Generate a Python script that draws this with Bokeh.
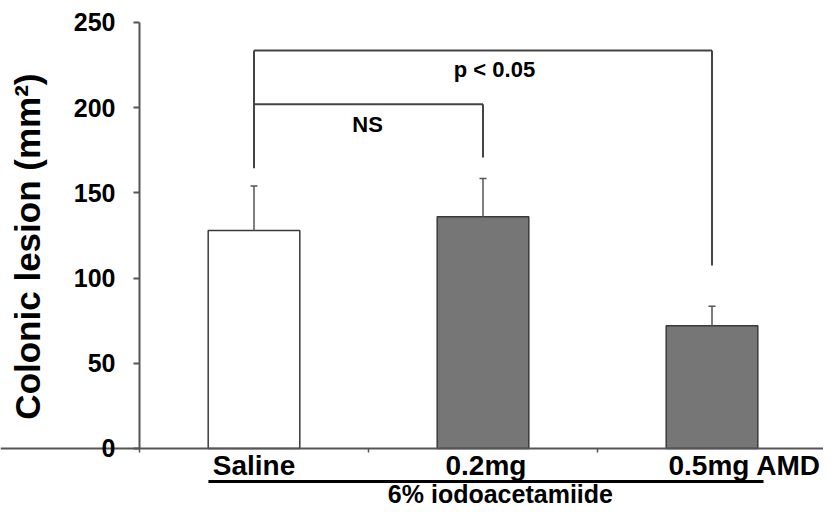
import math
from bokeh.plotting import figure
from bokeh.models import Label, FixedTicker, Range1d
from bokeh.embed import file_html
from bokeh.resources import INLINE

# ---- data ----
categories = ["Saline", "0.2mg", "0.5mg AMD"]
cat_x = [0.5, 1.5, 2.5]
means = [128, 136, 72]
sem_upper = [154, 158.5, 83.5]
bar_fills = ["#ffffff", "#767676", "#767676"]
y_ticks = [0, 50, 100, 150, 200, 250]
x_ticks = [0, 1, 2, 3]
y_title = "Colonic lesion (mm²)"
group_label = "6% iodoacetamiide"
ns_text = "NS"
p_text = "p < 0.05"
ns_bracket_y = 202
p_bracket_y = 233.6
bracket_foot = [164.5, 170.8, 107.4]

FONT = "Liberation Sans"
LINE = "#444444"
AXIS = "#555555"

W, H = 823, 509
# frame covers the whole canvas; axes are pinned at 0
p = figure(width=W, height=H, output_backend="svg", toolbar_location=None,
           x_range=Range1d(-0.6070, 2.9869), y_range=Range1d(-35.80, 262.91),
           min_border_left=0, min_border_right=0, min_border_top=0,
           min_border_bottom=0)
p.outline_line_color = None
p.grid.visible = False
p.background_fill_color = "white"
p.border_fill_color = "white"

# bars
p.vbar(x=cat_x, top=means, width=0.4, bottom=0, fill_color=bar_fills,
       line_color="#3a3a3a", line_width=1.5)

# error bars (upper only)
p.segment(x0=cat_x, y0=means, x1=cat_x, y1=sem_upper, line_color=AXIS, line_width=1.5)
p.dash(x=cat_x, y=sem_upper, size=7, line_color=AXIS, line_width=1.5)

# significance brackets
p.segment(x0=[cat_x[0], cat_x[1], cat_x[0], cat_x[0], cat_x[2]],
          y0=[ns_bracket_y, bracket_foot[1], p_bracket_y, bracket_foot[0], bracket_foot[2]],
          x1=[cat_x[1], cat_x[1], cat_x[2], cat_x[0], cat_x[2]],
          y1=[ns_bracket_y, ns_bracket_y, p_bracket_y, p_bracket_y, p_bracket_y],
          line_color=LINE, line_width=2)


def lab(x, y, text, size, align="center", angle=0.0):
    p.add_layout(Label(x=x, y=y, text=text, text_align=align, angle=angle,
                       text_baseline="alphabetic", text_font=FONT,
                       text_font_style="bold", text_font_size=size,
                       text_color="black"))


lab(0.996, 189.9, ns_text, "22px")
lab(1.55, 222.2, p_text, "22px")

# y axis pinned at x = 0
ya = p.yaxis[0]
ya.fixed_location = 0
ya.bounds = (0, 250)
ya.ticker = FixedTicker(ticks=y_ticks)
ya.axis_line_color = AXIS
ya.axis_line_width = 2
ya.major_tick_line_color = AXIS
ya.major_tick_line_width = 2
ya.major_tick_out = 6
ya.major_tick_in = 0
ya.minor_tick_line_color = None
ya.major_label_text_font = FONT
ya.major_label_text_font_style = "bold"
ya.major_label_text_font_size = "25px"
ya.major_label_text_color = "black"
ya.major_label_standoff = 18

# y title
lab(-0.4900, 118.5, y_title, "35px", angle=math.pi / 2)

# x axis pinned at y = 0, ticks at category boundaries
xa = p.xaxis[0]
xa.fixed_location = 0
xa.ticker = FixedTicker(ticks=x_ticks)
xa.major_label_overrides = {t: "" for t in x_ticks}
xa.major_label_text_font_size = "1px"
xa.axis_line_color = AXIS
xa.axis_line_width = 2
xa.major_tick_line_color = AXIS
xa.major_tick_line_width = 1.5
xa.major_tick_out = 4
xa.major_tick_in = 0
xa.minor_tick_line_color = None

# category labels under the axis
label_x = [0.5, 1.513, 2.310]
label_align = ["center", "center", "left"]
for name, lx, al in zip(categories, label_x, label_align):
    lab(lx, -10.04, name, "28px", align=al)

# group underline and group label
p.segment(x0=[0.301], y0=[-19.37], x1=[2.725], y1=[-19.37], line_color="black", line_width=3)
lab(1.576, -26.55, group_label, "25px")

open("out.html", "w").write(file_html(p, INLINE))
